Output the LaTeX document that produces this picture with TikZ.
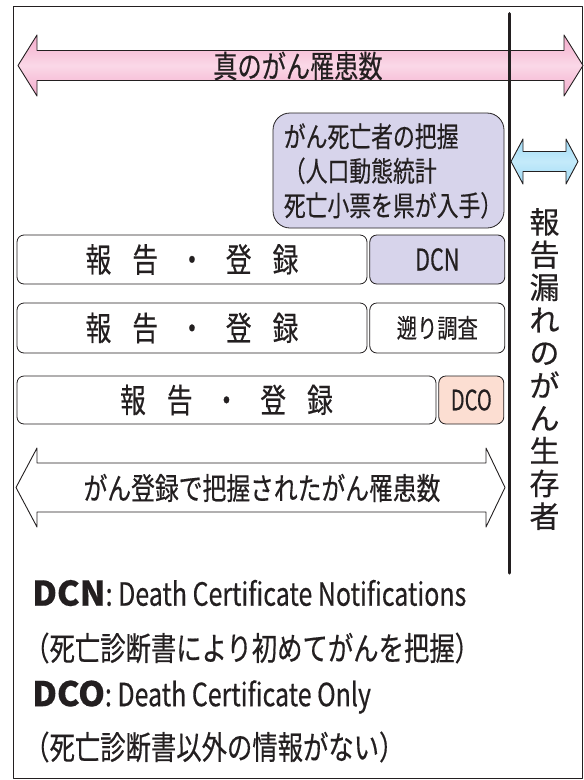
\documentclass[tikz,border=0pt]{standalone}
\usepackage{fontspec}
\newfontfamily\jp[FakeStretch=0.78, FakeBold=0.4]{Noto Sans CJK JP}
\newfontfamily\jpn[FakeStretch=0.72, FakeBold=0.4]{Noto Sans CJK JP}
\newfontfamily\jpv[FakeBold=0.4]{Noto Sans CJK JP}
\usetikzlibrary{positioning}

\definecolor{ink}{RGB}{35,31,32}
\definecolor{pinkdark}{RGB}{244,172,204}
\definecolor{pinklight}{RGB}{250,216,231}
\definecolor{lavender}{RGB}{215,212,235}
\definecolor{salmon}{RGB}{252,222,210}
\definecolor{skyblue}{RGB}{160,219,246}
\definecolor{skylight}{RGB}{196,234,250}

\begin{document}
\begin{tikzpicture}[
    x=1pt, y=-1pt,
    line join=round,
    frame/.style={draw=ink, line width=1.2pt},
    bigarrow/.style={draw=ink, line width=0.9pt},
    regbox/.style={
      rectangle,
      draw=ink,
      line width=0.8pt,
      rounded corners=7pt,
      inner sep=0pt,
      minimum height=49pt,
      fill=white,
      text=ink,
      font=\jp\fontsize{33}{33}\selectfont
    },
    tagbox/.style={regbox, font=\jpn\fontsize{30}{30}\selectfont},
    lbl/.style={text=ink, inner sep=0pt}
]
\useasboundingbox (0,0) rectangle (584,780);

% outer frame
\draw[frame] (13.5,6.5) rectangle (582.5,778.5);

% true incidence arrow
\draw[bigarrow, top color=pinkdark, bottom color=pinkdark, middle color=pinklight]
  (18,65.5) -- (37,35) -- (37,50.5) -- (564,50.5) -- (564,35) -- (583,65.5)
  -- (564,96) -- (564,80.5) -- (37,80.5) -- (37,96) -- cycle;
\node[lbl, font=\jp\fontsize{31}{31}\selectfont] (truecount) at (298,66) {真のがん罹患数};

% divider line
\coordinate (divtop) at (509,13.5);
\coordinate (divbot) at (509,573);
\draw[ink, line width=3pt, line cap=round] (divtop) -- (divbot);

% death certificate box
\node[regbox, rounded corners=17pt, fill=lavender, minimum width=231pt, minimum height=115pt] (grasp) at (388.5,170.5) {};
\node[lbl, align=left, font=\jp\fontsize{28}{34.5}\selectfont] (grasptext) at (393,171)
  {がん死亡者の把握\\（人口動態統計\\死亡小票を県が入手）};

% missed arrow
\draw[bigarrow, top color=skyblue, bottom color=skyblue, middle color=skylight]
  (511,161.5) -- (523,139) -- (523,151.5) -- (566,151.5) -- (566,139) -- (578,161.5)
  -- (566,184) -- (566,171.5) -- (523,171.5) -- (523,184) -- cycle;
\node[lbl, align=center, font=\jpv\fontsize{30}{32.7}\selectfont] (missed) at (544.5,369)
  {報\\告\\漏\\れ\\の\\が\\ん\\生\\存\\者};

% registration rows
\node[regbox, minimum width=350pt] (reg1) at (192,259.5)
  {報\hspace{21pt}告\hspace{21pt}・\hspace{21pt}登\hspace{21pt}録};
\node[tagbox, fill=lavender, minimum width=135pt, right=2pt of reg1] (dcn) {DCN};

\node[regbox, minimum width=350pt, minimum height=50pt] (reg2) at (192,328)
  {報\hspace{21pt}告\hspace{21pt}・\hspace{21pt}登\hspace{21pt}録};
\node[tagbox, minimum width=135pt, minimum height=50pt, right=2pt of reg2,
      font=\jp\fontsize{26}{26}\selectfont] (sokyu) {遡り調査};

\node[regbox, minimum width=419pt, minimum height=48pt] (reg3) at (226.5,400)
  {報\hspace{21pt}告\hspace{21pt}・\hspace{21pt}登\hspace{21pt}録};
\node[tagbox, fill=salmon, minimum width=65pt, minimum height=48pt, right=2pt of reg3,
      font=\jpn\fontsize{28}{28}\selectfont] (dco) {DCO};

% registered incidence arrow
\draw[bigarrow, fill=white]
  (16,487.5) -- (37,448) -- (37,463) -- (486,463) -- (486,448) -- (505,487.5)
  -- (486,527) -- (486,512) -- (37,512) -- (37,527) -- cycle;
\node[lbl, font=\jp\fontsize{30.5}{30.5}\selectfont] (registered) at (262,488)
  {がん登録で把握されたがん罹患数};

% legend
\node[lbl, anchor=west] (dcnkey) at (32,593)
  {{\jpv\bfseries\fontsize{34}{34}\selectfont DCN}{\jp\fontsize{32}{32}\selectfont : Death Certificate Notifications}};
\node[lbl, anchor=west, font=\jp\fontsize{32.5}{32.5}\selectfont] (dcnnote) at (24,648)
  {（死亡診断書により初めてがんを把握）};
\node[lbl, anchor=west] (dcokey) at (32,697)
  {{\jpv\bfseries\fontsize{34}{34}\selectfont DCO}{\jp\fontsize{32}{32}\selectfont : Death Certificate Only}};
\node[lbl, anchor=west, font=\jp\fontsize{32.5}{32.5}\selectfont] (dconote) at (24,747)
  {（死亡診断書以外の情報がない）};

\end{tikzpicture}
\end{document}
